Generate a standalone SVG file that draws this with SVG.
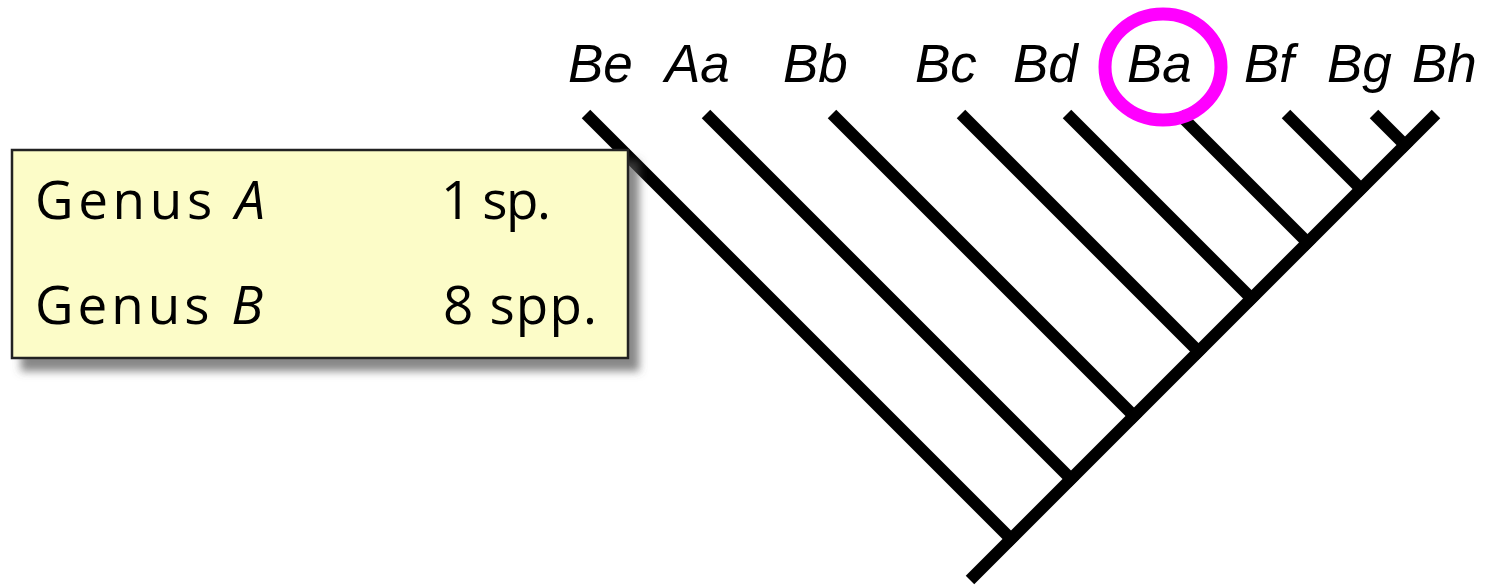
<svg xmlns="http://www.w3.org/2000/svg" width="1486" height="587" viewBox="0 0 1486 587">
  <style>
    .branch { stroke: #000; stroke-width: 12; stroke-linecap: butt; fill: none; }
    .taxon { font-family: "Liberation Sans", Arial, sans-serif; font-style: italic; font-size: 53px; fill: #000; }
    .legend { font-family: "Open Sans", "DejaVu Sans", sans-serif; font-size: 53px; fill: #000; }
    .legend tspan.it { font-style: italic; }
  </style>
  <defs>
    <filter id="shadow" x="-10%" y="-10%" width="130%" height="140%">
      <feGaussianBlur in="SourceAlpha" stdDeviation="4"/>
      <feOffset dx="10" dy="12" result="off"/>
      <feFlood flood-color="#555" flood-opacity="0.7"/>
      <feComposite in2="off" operator="in" result="sh"/>
      <feMerge>
        <feMergeNode in="sh"/>
        <feMergeNode in="SourceGraphic"/>
      </feMerge>
    </filter>
  </defs>

  <!-- tree edges -->
  <g id="connectors">
    <line class="branch" x1="970" y1="580" x2="1436" y2="114"/>
    <line class="branch" x1="586" y1="114" x2="1015" y2="543"/>
    <line class="branch" x1="706" y1="114" x2="1075" y2="483"/>
    <line class="branch" x1="832" y1="114" x2="1138" y2="420"/>
    <line class="branch" x1="961" y1="114" x2="1202.5" y2="355.5"/>
    <line class="branch" x1="1067" y1="114" x2="1255.5" y2="302.5"/>
    <line class="branch" x1="1179" y1="114" x2="1311.5" y2="246.5"/>
    <line class="branch" x1="1286" y1="114" x2="1365" y2="193"/>
    <line class="branch" x1="1374" y1="114" x2="1409" y2="149"/>
  </g>

  <!-- tip labels -->
  <g id="tip-Be"><text class="taxon" x="568" y="82">Be</text></g>
  <g id="tip-Aa"><text class="taxon" x="665" y="82">Aa</text></g>
  <g id="tip-Bb"><text class="taxon" x="783" y="82">Bb</text></g>
  <g id="tip-Bc"><text class="taxon" x="915" y="82">Bc</text></g>
  <g id="tip-Bd"><text class="taxon" x="1013" y="82">Bd</text></g>
  <g id="tip-Ba">
    <ellipse cx="1163" cy="67" rx="58" ry="53" fill="none" stroke="#FF00FF" stroke-width="13"/>
    <text class="taxon" x="1127" y="82">Ba</text>
  </g>
  <g id="tip-Bf"><text class="taxon" x="1244" y="82">Bf</text></g>
  <g id="tip-Bg"><text class="taxon" x="1327" y="82">Bg</text></g>
  <g id="tip-Bh"><text class="taxon" x="1412" y="82">Bh</text></g>

  <!-- species count legend -->
  <g id="legend">
    <rect x="12" y="150" width="616" height="208" fill="#FCFCC8" stroke="#222" stroke-width="2.5" filter="url(#shadow)"/>
    <text class="legend" x="35" y="219" textLength="230" lengthAdjust="spacing">Genus <tspan class="it">A</tspan></text>
    <text class="legend" x="441" y="219" textLength="110" lengthAdjust="spacing">1 sp.</text>
    <text class="legend" x="35" y="324" textLength="228" lengthAdjust="spacing">Genus <tspan class="it">B</tspan></text>
    <text class="legend" x="443" y="324" textLength="154" lengthAdjust="spacing">8 spp.</text>
  </g>
</svg>
